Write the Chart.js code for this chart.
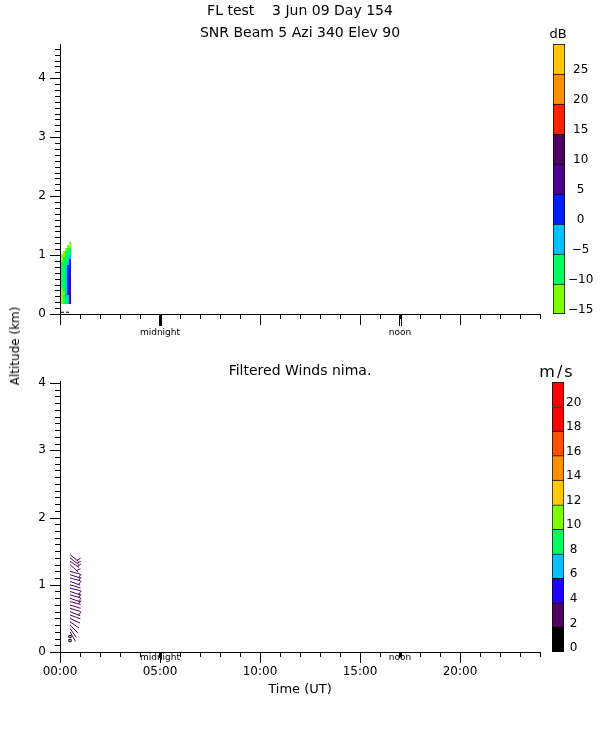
<!DOCTYPE html>
<html>
<head>
<meta charset="utf-8">
<script src="https://cdn.jsdelivr.net/npm/chart.js@4.4.1/dist/chart.umd.min.js"></script>
<style>
  body { margin: 0; background: #fff; }
  #page { position: relative; width: 600px; height: 750px; font-family: "DejaVu Sans", sans-serif; color: #000; }
  canvas { position: absolute; }
  .lbl { position: absolute; white-space: pre; transform: translate(-50%, -50%); line-height: 1; }
</style>
</head>
<body>
<div id="page">
  <canvas id="snrChart" width="545" height="345" style="left:0;top:0"></canvas>
  <canvas id="snrBar" width="47" height="345" style="left:553px;top:0"></canvas>
  <canvas id="windChart" width="545" height="355" style="left:0;top:345px"></canvas>
  <canvas id="windBar" width="48" height="355" style="left:552px;top:345px"></canvas>

  <div class="lbl" style="left:300px;top:10px;font-size:14px">FL test    3 Jun 09 Day 154</div>
  <div class="lbl" style="left:300px;top:32px;font-size:14px">SNR Beam 5 Azi 340 Elev 90</div>
  <div class="lbl" style="left:558px;top:33px;font-size:13px">dB</div>
  <div class="lbl" style="left:300px;top:370px;font-size:14px">Filtered Winds nima.</div>
  <div class="lbl" style="left:557px;top:372px;font-size:16px;letter-spacing:2px">m/s</div>
  <div class="lbl" style="left:15px;top:346px;font-size:12px;transform:translate(-50%,-50%) rotate(-90deg)">Altitude (km)</div>
  <div class="lbl" style="left:300px;top:688px;font-size:13px">Time (UT)</div>
</div>

<script>
// axes
const hourTicks = [0, 5, 10, 15, 20];
const altTicks = [0, 1, 2, 3, 4];
const localMidnight = 5;
const localNoon = 17;

// SNR colour bar (dB)
const dbEdges = [-15, -10, -5, 0, 5, 10, 15, 20, 25, 30];
const dbTicks = [-15, -10, -5, 0, 5, 10, 15, 20, 25];
const dbColors = ['#80ff00', '#00ff60', '#00c0ff', '#0020ff', '#500090', '#500060', '#ff2000', '#ff9000', '#ffc800'];

// wind colour bar (m/s)
const windEdges = [0, 2, 4, 6, 8, 10, 12, 14, 16, 18, 20, 22];
const windTicks = [0, 2, 4, 6, 8, 10, 12, 14, 16, 18, 20];
const windColors = ['#000000', '#500060', '#2000ff', '#00c0ff', '#00ff60', '#80ff00', '#ffc800', '#ff9000', '#ff5000', '#ff0000', '#ff0000'];

// SNR profiles: time (h) of each column, gate heights (km), dB per gate
const snrTimes = [0.1, 0.2, 0.3, 0.4, 0.5];
const snrGates = [0.20, 0.25, 0.30, 0.35, 0.40, 0.45, 0.50, 0.55, 0.60, 0.65, 0.70,
                  0.75, 0.80, 0.85, 0.90, 0.95, 1.00, 1.05, 1.10, 1.15, 1.20];
const snrCol0 = [-12, -12, -11, -12, -11, -9, -8, -7, -8, -7, -9, -8, -7, -8, -11, -12, -12];
const snrCol1 = [-9, -8, -7, -11, -6, -7, -8, -7, -6, -7, -8, -7, -8, -9, -7, -8, -11, -12];
const snrCol2 = [-7, -6, -4, -3, -3, -2, -3, -2, -4, -3, -3, -4, -3, -6, -7, -8, -7, -9, -11];
const snrCol3 = [-3, -2, -3, 1, 2, 1, 3, 2, 1, 2, 3, 1, 2, -2, -3, -2, -6, -7, -8, -11];
const snrCol4 = [7, 8, 7, 6, 7, 8, 6, 7, 6, 7, 3, 2, 1, 2, 3, -2, -3, -7, -8, -11, -12];
const snrBaseTimes = [0.05, 0.55];
const snrBaseAlt = [0.03, 0.03];

// wind profile
const windProfileTime = 0.5;
const windAlt = [1.45, 1.40, 1.35, 1.30, 1.20, 1.15, 1.10, 1.05, 1.00, 0.95, 0.90, 0.85,
                 0.80, 0.75, 0.70, 0.65, 0.60, 0.55, 0.50, 0.45, 0.40, 0.35, 0.30];
const windDir = [130, 128, 125, 132, 106, 108, 105, 110, 107, 104, 108, 106,
                 110, 105, 108, 107, 112, 110, 115, 125, 135, 145, 150];
const windSpd = [3.2, 3.0, 3.4, 2.9, 2.4, 2.7, 3.1, 2.8, 2.5, 2.3, 2.9, 3.0,
                 3.3, 2.7, 2.4, 2.2, 2.6, 2.3, 2.2, 2.4, 2.2, 2.3, 2.1];
const calmAlt = [0.23, 0.17];

Chart.defaults.font.family = '"DejaVu Sans", sans-serif';
Chart.defaults.font.size = 12;
Chart.defaults.color = '#000';
Chart.defaults.animation = false;
Chart.defaults.plugins.legend.display = false;
Chart.defaults.plugins.tooltip.enabled = false;

function binColor(v, edges, colors) {
  for (let i = 0; i < colors.length; i++) {
    if (v < edges[i + 1]) return colors[i];
  }
  return colors[colors.length - 1];
}

function hhmm(h) {
  return String(h).padStart(2, '0') + ':00';
}

// minor/major ticks, midnight + noon markers
const frameTicks = {
  id: 'frameTicks',
  afterDraw(chart, args, opts) {
    const { ctx, chartArea: a, scales: { x, y } } = chart;
    ctx.save();
    ctx.strokeStyle = '#000';
    ctx.fillStyle = '#000';
    ctx.lineWidth = 1;
    ctx.beginPath();
    for (let k = 0; k / 10 <= y.max + 1e-9; k++) {
      const py = Math.round(y.getPixelForValue(k / 10)) + 0.5;
      const len = k % 10 === 0 ? 10 : 5;
      ctx.moveTo(a.left - len, py);
      ctx.lineTo(a.left, py);
    }
    for (let h = 0; h <= 24; h++) {
      const px = Math.round(x.getPixelForValue(h)) + 0.5;
      const len = h % 5 === 0 ? 11 : 5;
      ctx.moveTo(px, a.bottom);
      ctx.lineTo(px, a.bottom + len);
    }
    ctx.stroke();
    const mx = Math.round(x.getPixelForValue(localMidnight));
    const nx = Math.round(x.getPixelForValue(localNoon));
    ctx.fillRect(mx - 1, a.bottom, 3, opts.markLen);
    ctx.fillRect(nx - 1, a.bottom, 1, opts.markLen);
    ctx.fillRect(nx + 1, a.bottom, 1, opts.markLen);
    ctx.font = '9px "DejaVu Sans"';
    ctx.textAlign = 'center';
    ctx.textBaseline = 'middle';
    ctx.fillText('midnight', mx, a.bottom + opts.labelGap);
    ctx.fillText('noon', nx, a.bottom + opts.labelGap);
    ctx.restore();
  }
};

// SNR cells
const snrCells = {
  id: 'snrCells',
  beforeDatasetsDraw(chart) {
    const { ctx, scales: { x, y } } = chart;
    const cols = [snrCol0, snrCol1, snrCol2, snrCol3, snrCol4];
    ctx.save();
    cols.forEach((col, c) => {
      const x0 = Math.round(x.getPixelForValue(snrTimes[c] - 0.05));
      const x1 = Math.round(x.getPixelForValue(snrTimes[c] + 0.05));
      col.forEach((v, k) => {
        const y0 = Math.round(y.getPixelForValue(snrGates[k] + 0.025));
        const y1 = Math.round(y.getPixelForValue(snrGates[k] - 0.025));
        ctx.fillStyle = binColor(v, dbEdges, dbColors);
        ctx.fillRect(x0, y0, x1 - x0, y1 - y0);
      });
    });
    ctx.restore();
  }
};

// wind barbs on the points of dataset 1
const windBarbs = {
  id: 'windBarbs',
  afterDatasetsDraw(chart) {
    const { ctx } = chart;
    const pts = chart.getDatasetMeta(1).data;
    ctx.save();
    ctx.lineWidth = 1;
    pts.forEach((p, i) => {
      const ang = windDir[i] * Math.PI / 180;
      const ux = Math.sin(ang), uy = -Math.cos(ang);
      ctx.strokeStyle = binColor(windSpd[i], windEdges, windColors);
      ctx.beginPath();
      ctx.moveTo(p.x, p.y);
      ctx.lineTo(p.x + ux * 11, p.y + uy * 11);
      if (windSpd[i] >= 2.6) {
        const fx = p.x + ux * 9, fy = p.y + uy * 9;
        ctx.moveTo(fx, fy);
        ctx.lineTo(fx + uy * 4 + ux * 1.5, fy - ux * 4 + uy * 1.5);
      }
      ctx.stroke();
    });
    ctx.restore();
  }
};

function mainScales(yMax, showHours, xHeight) {
  return {
    x: {
      type: 'linear', min: 0, max: 24,
      afterBuildTicks: s => { s.ticks = hourTicks.map(v => ({ value: v })); },
      grid: { display: false, drawTicks: false },
      border: { display: true, color: '#000', width: 1 },
      ticks: { display: showHours, padding: 13, maxRotation: 0, callback: v => hhmm(v) },
      afterFit: s => { s.height = xHeight; }
    },
    y: {
      type: 'linear', min: 0, max: yMax,
      afterBuildTicks: s => { s.ticks = altTicks.map(v => ({ value: v })); },
      grid: { display: false, drawTicks: false },
      border: { display: true, color: '#000', width: 1 },
      ticks: { padding: 14, callback: v => v },
      afterFit: s => { s.width = 60; }
    }
  };
}

new Chart(document.getElementById('snrChart'), {
  type: 'scatter',
  data: {
    datasets: [{
      data: snrBaseTimes.map((t, i) => ({ x: t, y: snrBaseAlt[i] })),
      showLine: true, pointRadius: 0, borderColor: '#000', borderWidth: 1, borderDash: [3, 2]
    }]
  },
  options: {
    responsive: false,
    layout: { padding: { top: 44, right: 5, left: 0, bottom: 0 } },
    scales: mainScales(4.58, false, 31),
    plugins: { frameTicks: { markLen: 12, labelGap: 19 } }
  },
  plugins: [snrCells, frameTicks]
});

new Chart(document.getElementById('windChart'), {
  type: 'scatter',
  data: {
    datasets: [
      {
        data: calmAlt.map(a => ({ x: windProfileTime, y: a })),
        pointStyle: 'rect', pointRadius: 1.6, borderColor: '#000', backgroundColor: '#fff', borderWidth: 1
      },
      {
        data: windAlt.map(a => ({ x: windProfileTime, y: a })),
        pointRadius: 0
      }
    ]
  },
  options: {
    responsive: false,
    layout: { padding: { top: 36, right: 5, left: 0, bottom: 0 } },
    scales: mainScales(4.03, true, 48),
    plugins: { frameTicks: { markLen: 6, labelGap: 6 } }
  },
  plugins: [windBarbs, frameTicks]
});

function colorBar(id, edges, colors, tickVals, padTop, padBottom, axisWidth, labelPad, fmt) {
  return new Chart(document.getElementById(id), {
    type: 'bar',
    data: {
      labels: ['c'],
      datasets: colors.map((c, i) => ({
        data: [[edges[i], edges[i + 1]]],
        backgroundColor: c,
        borderColor: '#000',
        borderWidth: i === 0 ? 1 : { top: 1, left: 1, right: 1, bottom: 0 },
        borderSkipped: false,
        grouped: false,
        barPercentage: 1,
        categoryPercentage: 1
      }))
    },
    options: {
      responsive: false,
      layout: { padding: { top: padTop, bottom: padBottom, left: 0, right: 0 } },
      scales: {
        x: { display: false },
        y: {
          position: 'right',
          min: edges[0], max: edges[edges.length - 1],
          afterBuildTicks: s => { s.ticks = tickVals.map(v => ({ value: v })); },
          grid: { display: false, drawTicks: false },
          border: { display: false },
          ticks: { crossAlign: 'center', padding: labelPad, labelOffset: -4, callback: fmt },
          afterFit: s => { s.width = axisWidth; }
        }
      }
    }
  });
}

colorBar('snrBar', dbEdges, dbColors, dbTicks, 44, 31, 35, 3, v => v < 0 ? '\u2212' + Math.abs(v) : String(v));
colorBar('windBar', windEdges, windColors, windTicks, 37, 48, 36, 2, v => String(v));
</script>
</body>
</html>
